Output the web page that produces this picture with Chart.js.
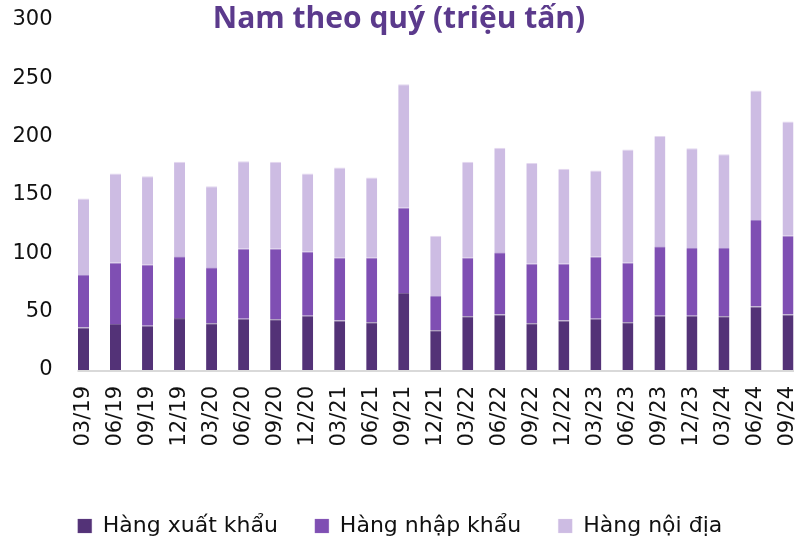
<!DOCTYPE html>
<html>
<head>
<meta charset="utf-8">
<script src="https://cdn.jsdelivr.net/npm/chart.js@4"></script>
<style>
  html, body { margin: 0; padding: 0; background: #fff; overflow: hidden; }
  #wrap { position: relative; width: 798px; height: 539px; }
  #title {
    position: absolute; left: 0; right: 0; top: -4px; text-align: center;
    font-family: 'Open Sans', 'Noto Sans', sans-serif; font-weight: 700; font-size: 30px;
    color: #5b3a8c; pointer-events: none;
  }
</style>
</head>
<body>
<div id="wrap">
  <canvas id="chart" width="798" height="539"></canvas>
  <div id="title">Nam theo quý (triệu tấn)</div>
</div>
<script>
// Quarterly tonnage (million tonnes)
const quarters = ['03/19', '06/19', '09/19', '12/19', '03/20', '06/20', '09/20', '12/20',
  '03/21', '06/21', '09/21', '12/21', '03/22', '06/22', '09/22', '12/22',
  '03/23', '06/23', '09/23', '12/23', '03/24', '06/24', '09/24'];
const exportGoods = [36.5, 39.5, 38, 44.5, 40, 44, 43.5, 46.5, 42.5, 41, 66, 34,
  46, 47.5, 40, 42.5, 44, 41, 46.5, 46.5, 46, 54.5, 47.5];
const importGoods = [45, 52.5, 52.5, 53, 48, 60, 60.5, 55, 54, 55.5, 73, 29.5,
  50.5, 53.5, 51, 48.5, 53, 51, 59.5, 58, 58.5, 74, 67.5];
const domesticGoods = [65.5, 76.5, 75.5, 81, 69.5, 75, 74.5, 67, 77, 68.5, 106, 51.5,
  82, 89.5, 86.5, 81.5, 74, 97, 94.5, 85.5, 80.5, 111, 98];
const yTicks = [0, 50, 100, 150, 200, 250, 300];

const colors = ['#533277', '#7f4fb3', '#cdbce3'];
const edges = ['#7a5f98', '#a07fc8', '#e3d8ef'];
const tickFont = { family: "'DejaVu Sans', sans-serif", size: 21 };

// baseline under the bars, from first bar's left edge to last bar's right edge
const baseline = {
  id: 'baseline',
  afterDatasetsDraw(chart) {
    const bars = chart.getDatasetMeta(0).data;
    if (!bars.length) return;
    const first = bars[0], last = bars[bars.length - 1];
    const y = chart.scales.y.getPixelForValue(0) + 1;
    const ctx = chart.ctx;
    ctx.save();
    ctx.strokeStyle = '#d9d9d9';
    ctx.lineWidth = 2;
    ctx.beginPath();
    ctx.moveTo(first.x - first.width / 2 - 0.5, y);
    ctx.lineTo(last.x + last.width / 2 + 0.5, y);
    ctx.stroke();
    ctx.restore();
  },
};

const ds = (label, data, i) => ({
  label, data,
  backgroundColor: colors[i],
  borderColor: edges[i],
  borderWidth: { top: 1, left: 0, right: 0, bottom: 0 },
  borderSkipped: false,
  categoryPercentage: 1,
  barPercentage: 0.344,
  clip: false,
});

new Chart(document.getElementById('chart'), {
  type: 'bar',
  data: {
    labels: quarters,
    datasets: [
      ds('Hàng xuất khẩu', exportGoods, 0),
      ds('Hàng nhập khẩu', importGoods, 1),
      ds('Hàng nội địa', domesticGoods, 2),
    ],
  },
  plugins: [baseline],
  options: {
    responsive: false,
    animation: false,
    layout: { padding: { left: 12, right: 10, top: 0, bottom: -8 } },
    plugins: {
      tooltip: { enabled: false },
      legend: {
        position: 'bottom',
        labels: {
          boxWidth: 14, boxHeight: 14, padding: 37,
          color: '#111',
          font: { family: "'DejaVu Sans', sans-serif", size: 22 },
        },
      },
    },
    scales: {
      x: {
        stacked: true,
        offset: false,
        grid: { display: false, drawTicks: false },
        border: { display: false },
        ticks: { autoSkip: false, maxRotation: 90, minRotation: 90, padding: 16, color: '#111', font: tickFont },
        afterFit: (s) => { s.height = 108; s.paddingLeft = 0; s.paddingRight = 0; },
      },
      y: {
        stacked: true,
        min: 0, max: 300,
        grid: { display: false, drawTicks: false },
        border: { display: false },
        afterBuildTicks: (s) => { s.ticks = yTicks.map((v) => ({ value: v })); },
        ticks: { padding: 31, color: '#111', font: tickFont },
        afterFit: (s) => { s.width = 71.5; s.paddingTop = 20; s.paddingBottom = 0; },
      },
    },
  },
});
</script>
</body>
</html>
